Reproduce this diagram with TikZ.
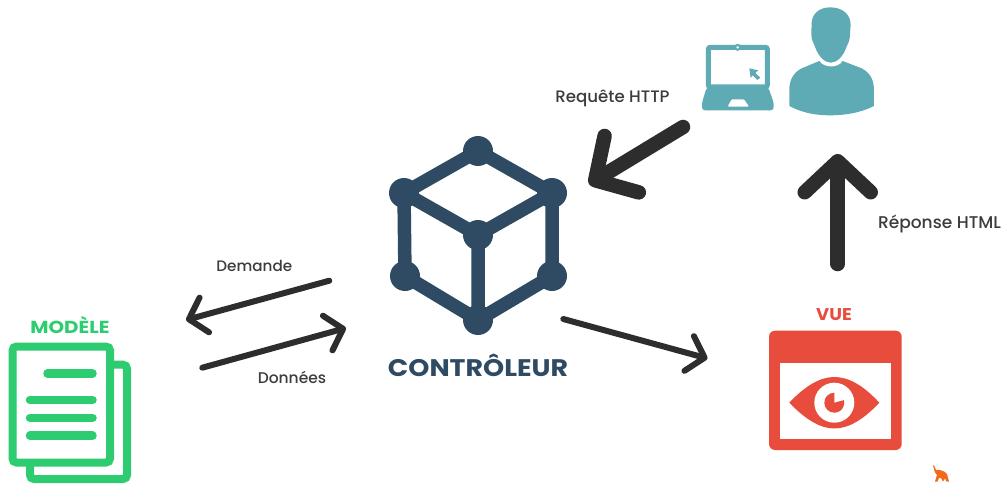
\documentclass[tikz,border=0pt]{standalone}
\usepackage{fontspec}
\setmainfont{Poppins}
\newfontfamily\medf{Poppins Medium}
\usetikzlibrary{arrows.meta}
\definecolor{teal1}{HTML}{5FABB5}
\definecolor{red1}{HTML}{E74C3C}
\definecolor{green1}{HTML}{2ECC71}
\definecolor{navy1}{HTML}{2F4A63}
\definecolor{dark1}{HTML}{2D2D2D}
\definecolor{txt1}{HTML}{3C3C3C}
\definecolor{orange1}{HTML}{F26A1B}
\tikzset{
  cubedot/.style={circle,fill=navy1,inner sep=0pt,minimum size=30pt},
  cubeedge/.style={draw=navy1,line width=13.5pt},
  biglink/.style={draw=dark1,line width=14.5pt,line cap=round,
    -{Straight Barb[round,length=31pt,width=66pt]}},
  thinlink/.style={draw=dark1,line width=6pt,line cap=round,
    -{Straight Barb[round,length=16pt,width=36pt]}},
  lab/.style={text=txt1,inner sep=0pt,anchor=base},
  ttl/.style={inner sep=0pt,anchor=base,transform shape},
  docline/.style={draw=green1,line width=8.5pt,line cap=round},
}
\begin{document}
\begin{tikzpicture}[x=1pt,y=-1pt]
\useasboundingbox (0,0) rectangle (1001,484);
\fill[white] (0,0) rectangle (1001,484);

% cube
\node[cubedot] (ct) at (478,151) {};
\node[cubedot] (cl) at (404,193) {};
\node[cubedot] (cr) at (552,193) {};
\node[cubedot] (cc) at (478,235) {};
\node[cubedot] (ll) at (405,276) {};
\node[cubedot] (lr) at (552,276) {};
\node[cubedot] (cb) at (478,320) {};
\draw[cubeedge] (ct.center)--(cl.center) (ct.center)--(cr.center) (cl.center)--(cc.center)
  (cr.center)--(cc.center) (cc.center)--(cb.center) (cl.center)--(ll.center)
  (cr.center)--(lr.center) (ll.center)--(cb.center) (lr.center)--(cb.center);
\node[ttl,text=navy1,xscale=1.12,font=\fontsize{24}{30}\bfseries\selectfont] (ctrl) at (478,376.5) {CONTRÔLEUR};

% document (model)
\draw[draw=green1,line width=8pt,rounded corners=4pt] (114,364.7)--(127,364.7)--(127,479)--(30,479)--(30,466);
\draw[draw=green1,line width=8pt,rounded corners=4pt] (12.5,346.5) rectangle (110,462.5);
\draw[docline] (47.5,373.3)--(92.5,373.3);
\draw[docline] (30,400)--(92.5,400);
\draw[docline] (30,418)--(92.5,418);
\draw[docline] (30,435.7)--(92.5,435.7);
\node[ttl,text=green1,xscale=1.14,font=\fontsize{17.4}{22}\bfseries\selectfont] (mod) at (70,333.5) {MODÈLE};

% view
\fill[red1,rounded corners=6pt] (769,330.7) rectangle (901.7,450);
\fill[white] (780,363) rectangle (890.7,439);
\fill[red1] (855,348.3) circle[radius=5pt] (870.3,348.3) circle[radius=5pt] (885.7,348.3) circle[radius=5pt];
\fill[red1] (789.3,402.7) .. controls (805,386) and (820,377) .. (834.3,377)
  .. controls (849,377) and (864,386) .. (879.3,402.7)
  .. controls (864,419) and (849,428.5) .. (834.3,428.5)
  .. controls (820,428.5) and (805,419) .. (789.3,402.7) -- cycle;
\fill[white] (834.3,402.7) circle[radius=20pt];
\fill[red1] (834.3,402.7) -- ++(90:10pt) arc[start angle=90,end angle=375,radius=10pt] -- cycle;
\node[ttl,text=red1,xscale=1.06,font=\fontsize{17}{20}\bfseries\selectfont] (vue) at (834,320) {VUE};

% laptop and user
\begin{scope}[shift={(680,0)},x=0.3333pt,y=-0.3333pt]
\draw[draw=teal1,line width=5pt,rounded corners=2pt] (85,142) rectangle (262,261);
\fill[teal1] (173,142) circle[radius=3.5pt];
\fill[white] (173,142) circle[radius=1.4pt];
\fill[teal1,rounded corners=3pt] (80,262)--(265,262)--(281,308)--(281,331)--(66,331)--(66,308)--cycle;
\fill[white,rounded corners=1pt] (143,320)--(155,298)--(192,298)--(207,320)--cycle;
\fill[teal1] (208,205)--(235,211)--(226,219)--(241,233)--(232,240)--(218,226)--(212,234)--cycle;
\fill[teal1] (450,22) .. controls (490,22) and (512,45) .. (512,75) -- (510,102)
  .. controls (510,125) and (503,130) .. (500,140) .. controls (490,170) and (470,188) .. (452,188)
  .. controls (435,188) and (415,170) .. (405,140) .. controls (400,128) and (394,120) .. (394,100)
  -- (395,70) .. controls (395,45) and (415,22) .. (450,22) -- cycle;
\fill[teal1] (418,183) .. controls (430,204) and (475,206) .. (488,183) -- (545,205)
  .. controls (570,218) and (582,240) .. (582,270) -- (582,318)
  .. controls (540,340) and (490,346) .. (450,346) .. controls (410,346) and (370,340) .. (328,318)
  -- (328,270) .. controls (328,240) and (340,218) .. (365,205) -- cycle;
\end{scope}

% connector ends
\coordinate (reqa) at (683,127);
\coordinate (reqb) at (589,184);
\coordinate (repa) at (837.7,264);
\coordinate (repb) at (837.7,154);
\coordinate (dema) at (329.3,280.7);
\coordinate (demb) at (186,320);
\coordinate (dona) at (202.3,367.7);
\coordinate (donb) at (346,328);
\coordinate (vuea) at (563.3,319);
\coordinate (vueb) at (707.5,358.5);
\draw[biglink] (reqa) -- (reqb);
\draw[biglink] (repa) -- (repb);
\draw[thinlink] (dema) -- (demb);
\draw[thinlink] (dona) -- (donb);
\draw[thinlink] (vuea) -- (vueb);

% labels
\node[lab,font=\medf\fontsize{16.6}{18}\selectfont] (l1) at (612.5,102.7) {Requête HTTP};
\node[lab,font=\medf\fontsize{17}{18}\selectfont] (l2) at (939.5,228.3) {Réponse HTML};
\node[lab,font=\medf\fontsize{15.2}{18}\selectfont] (l3) at (254.3,271) {Demande};
\node[lab,font=\medf\fontsize{15.5}{18}\selectfont] (l4) at (292,383.3) {Données};

% elephant
\fill[orange1] (932.5,465) .. controls (934,464.5) and (935,467) .. (936,470)
  .. controls (940,469.5) and (945,471) .. (947,474) -- (949,481.5) -- (946.5,481.5) -- (945,478.5)
  -- (943,481.5) -- (941,478) -- (939,478) -- (937.5,481.5) -- (935,481.5) -- (937,475)
  .. controls (934.5,473) and (934,469) .. (933.5,467) -- cycle;
\end{tikzpicture}
\end{document}
